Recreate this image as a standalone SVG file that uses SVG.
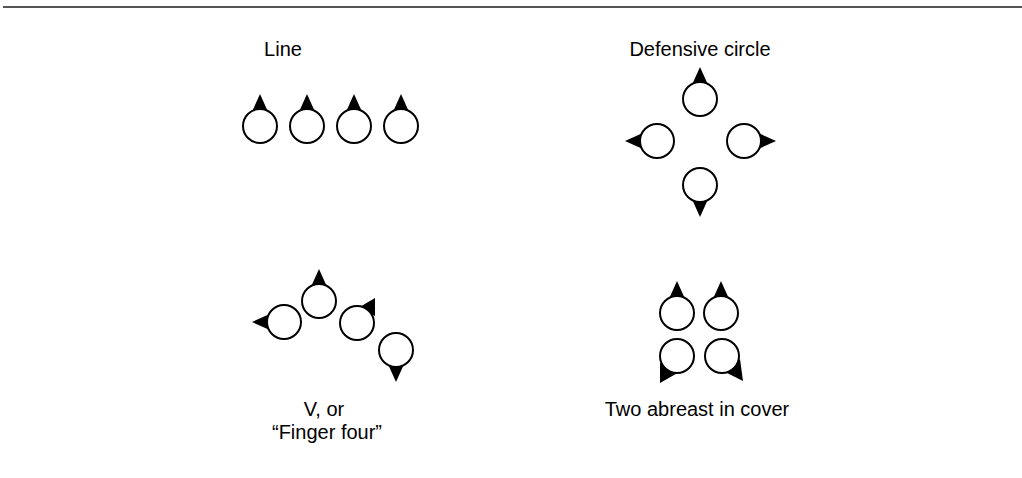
<svg xmlns="http://www.w3.org/2000/svg" xmlns:xlink="http://www.w3.org/1999/xlink" width="1022" height="478" viewBox="0 0 1022 478">
<style>
.c{fill:#fff;stroke:#000;stroke-width:2}
.t{fill:#000}
.lbl{font-family:"Liberation Sans",Arial,sans-serif;font-size:20px;fill:#000;text-anchor:middle}
</style>
<defs>
<polygon id="tri" class="t" points="0,-32 -9,-12 9,-12"/>
</defs>
<rect width="1022" height="478" fill="#fff"/>
<line x1="3" y1="7" x2="1022" y2="7" stroke="#555" stroke-width="2"/>
<g id="line">
<text class="lbl" x="283" y="56">Line</text>
<use href="#tri" transform="translate(260,126)"/><circle class="c" cx="260" cy="126" r="17"/>
<use href="#tri" transform="translate(307,126)"/><circle class="c" cx="307" cy="126" r="17"/>
<use href="#tri" transform="translate(354,126)"/><circle class="c" cx="354" cy="126" r="17"/>
<use href="#tri" transform="translate(401,126)"/><circle class="c" cx="401" cy="126" r="17"/>
</g>
<g id="defensive">
<text class="lbl" x="700" y="56">Defensive circle</text>
<use href="#tri" transform="translate(700,99)"/><circle class="c" cx="700" cy="99" r="17"/>
<use href="#tri" transform="translate(657,141) rotate(-90)"/><circle class="c" cx="657" cy="141" r="17"/>
<use href="#tri" transform="translate(744,141) rotate(90)"/><circle class="c" cx="744" cy="141" r="17"/>
<use href="#tri" transform="translate(700,185) rotate(180)"/><circle class="c" cx="700" cy="185" r="17"/>
</g>
<g id="vformation">
<use href="#tri" transform="translate(319,301)"/><circle class="c" cx="319" cy="301" r="17"/>
<use href="#tri" transform="translate(284,322) rotate(-90)"/><circle class="c" cx="284" cy="322" r="17"/>
<polygon class="t" points="358,308 375,298 375,316"/><circle class="c" cx="357" cy="323" r="17"/>
<use href="#tri" transform="translate(396,350) rotate(180)"/><circle class="c" cx="396" cy="350" r="17"/>
<text class="lbl" x="324" y="416">V, or</text>
<text class="lbl" x="327" y="439">“Finger four”</text>
</g>
<g id="abreast">
<use href="#tri" transform="translate(677,313)"/><circle class="c" cx="677" cy="313" r="17"/>
<use href="#tri" transform="translate(721,313)"/><circle class="c" cx="721" cy="313" r="17"/>
<polygon class="t" points="660,363 660,383 681,371"/><circle class="c" cx="677" cy="356" r="17"/>
<polygon class="t" points="727,373 740,359 743,381"/><circle class="c" cx="722" cy="356" r="17"/>
<text class="lbl" x="697" y="416">Two abreast in cover</text>
</g>
</svg>
